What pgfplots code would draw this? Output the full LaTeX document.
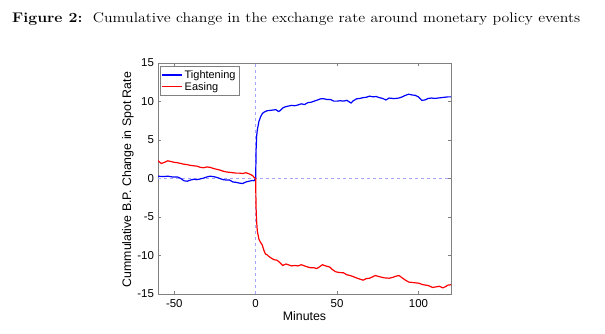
\documentclass[border=0pt]{standalone}
\usepackage{pgfplots}
\pgfplotsset{compat=1.18}
\usepackage{fontspec}
\usepackage{graphicx}
\newfontfamily\arial{Liberation Sans}
\definecolor{axgray}{gray}{0.5}
\definecolor{dashblue}{RGB}{165,165,255}
\pgfplotsset{
  mylegimg/.style={legend image code/.code={\draw[mark repeat=2,mark phase=2,##1] plot coordinates {(0bp,0bp) (10bp,0bp) (20bp,0bp)};}}
}
\begin{document}
\begin{tikzpicture}[x=1bp,y=1bp]
\useasboundingbox (0,0) rectangle (605,333);
\node[anchor=base west, inner sep=0pt, font=\fontsize{14}{17}\selectfont] at (12,310.3)
  {\resizebox{568bp}{\height}{\textbf{Figure 2:}\ \ Cumulative change in the exchange rate around monetary policy events}};
\begin{axis}[
  at={(158bp,39bp)}, anchor=south west,
  scale only axis, width=293bp, height=231bp,
  xmin=-60, xmax=120, ymin=-15, ymax=15,
  xtick={-50,0,50,100}, ytick={-15,-10,-5,0,5,10,15},
  tick align=inside, tick pos=both,
  major tick length=3bp,
  axis line style={axgray, line width=0.6pt},
  tick style={axgray, line width=0.5pt},
  /pgf/number format/assume math mode=true,
  ticklabel style={font=\arial\fontsize{11.5}{12}\selectfont, text=black},
  xticklabel style={yshift=-1.5bp},
  yticklabel style={xshift=-0.5bp},
  xlabel={Minutes},
  ylabel={Cummulative B.P. Change in Spot Rate},
  label style={font=\arial\fontsize{12.4}{13}\selectfont},
  xlabel style={at={(rel axis cs:0.5,0)}, anchor=center, yshift=-22bp},
  ylabel style={at={(rel axis cs:0,0.495)}, anchor=center, rotate=0, yshift=30bp},
  legend style={at={(rel axis cs:0.006,0.985)}, anchor=north west,
    draw=axgray, line width=0.5pt, font=\arial\fontsize{11}{12}\selectfont,
    inner sep=1.5bp, row sep=-1.5bp, cells={anchor=west}},
  mylegimg,
  clip=true,
]
\addplot[dashblue, dashed, line width=0.5pt, forget plot] coordinates {(0,-15) (0,15)};
\addplot[dashblue, dashed, line width=0.5pt, forget plot] coordinates {(-60,0) (120,0)};
\addplot[color=blue, line width=1.2pt] coordinates {
(-60,0.3)(-57,0.25)(-54,0.3)(-51,0.2)(-48,0.2)(-46,0.0)(-44,-0.3)(-42,-0.35)(-40,-0.2)(-38,-0.1)
(-36,-0.15)(-34,-0.05)(-32,0.05)(-30,0.2)(-28,0.3)(-26,0.25)(-24,0.15)(-22,0.0)(-20,-0.15)(-18,-0.2)
(-16,-0.2)(-14,-0.45)(-12,-0.5)(-10,-0.6)(-8,-0.65)(-6,-0.45)(-4,-0.35)(-2,-0.25)(-1,-0.3)(0,0)
(0.3,4.0)(0.6,5.5)(1,6.3)(2,7.4)(3,8.0)(4,8.4)(5,8.6)(6,8.7)(7,8.8)(9,8.85)(11,8.9)(12.4,8.95)
(14,8.7)(15,8.8)(16.6,9.15)(18,9.3)(20,9.4)(22,9.5)(24,9.45)(26,9.55)(28,9.7)(30,9.6)(32,9.85)
(34,9.9)(36,10.05)(38,10.2)(40,10.35)(42,10.35)(44,10.25)(46,10.25)(48,10.05)(50,10.05)(52,10.1)
(54,10.05)(56,10.15)(58.6,9.8)(60,10.1)(62,10.35)(64,10.4)(66,10.5)(68,10.55)(70,10.7)(72,10.6)
(74,10.65)(76,10.5)(78,10.4)(80,10.2)(82,10.45)(84,10.4)(86,10.4)(88,10.45)(90,10.6)(92,10.8)
(94,10.95)(96,10.85)(98,10.8)(100,10.6)(102,10.15)(104,10.2)(106,10.4)(108,10.45)(110,10.4)
(112,10.45)(114,10.5)(116,10.55)(118,10.6)(120,10.6)};
\addlegendentry{Tightening}
\addplot[color=red, line width=1.2pt] coordinates {
(-60,2.3)(-58,1.95)(-56,2.1)(-54,2.3)(-52,2.2)(-50,2.1)(-48,2.05)(-46,1.95)(-44,1.85)(-42,1.8)
(-40,1.7)(-38,1.65)(-36,1.6)(-34,1.45)(-32,1.4)(-30,1.5)(-28,1.45)(-26,1.3)(-24,1.2)(-22,1.1)
(-20,0.95)(-18,0.85)(-16,0.8)(-14,0.75)(-12,0.7)(-10,0.7)(-8,0.65)(-6,0.75)(-4,0.6)(-2,0.4)
(-1,0.15)(0,0)(0.2,-3.5)(0.5,-5.3)(1,-6.8)(2,-7.9)(3,-8.3)(4,-8.6)(5,-9.3)(6,-9.8)(7,-9.9)(8,-10.1)
(10,-10.4)(11.4,-10.55)(13,-10.6)(14.5,-10.85)(16.6,-11.3)(18.6,-11.1)(20,-11.2)(22,-11.35)
(24,-11.3)(26,-11.35)(28,-11.2)(30,-11.35)(32,-11.5)(34,-11.6)(36,-11.6)(37.5,-11.7)(39,-11.5)
(41,-11.2)(43,-11.35)(45.5,-11.5)(47,-11.8)(49,-12.1)(51,-12.2)(54,-12.25)(56,-12.5)(58,-12.6)
(60,-12.75)(63,-13.0)(66,-13.2)(68,-13.0)(70,-12.95)(72,-12.75)(73.5,-12.6)(76,-12.75)(79,-12.9)
(82,-12.95)(84,-12.85)(86,-12.7)(88,-12.6)(90,-12.9)(92,-13.2)(94,-13.45)(96.3,-13.5)(98,-13.55)
(100.4,-13.6)(102,-13.75)(104.5,-13.85)(106,-13.9)(108.7,-14.15)(110,-14.1)(112.8,-14.0)
(115,-14.2)(117,-14.0)(118,-13.85)(120,-13.8)};
\addlegendentry{Easing}
\end{axis}
\end{tikzpicture}
\end{document}
